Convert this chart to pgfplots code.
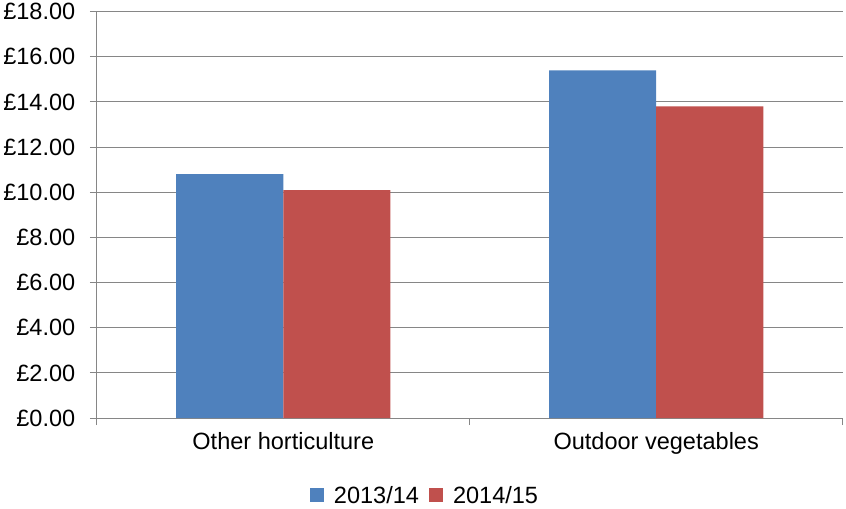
\documentclass[border=0pt]{standalone}
\usepackage{fontspec}
\setmainfont{Liberation Sans}
\usepackage{pgfplots}
\pgfplotsset{compat=1.18}
\definecolor{barblue}{HTML}{4F81BD}
\definecolor{barred}{HTML}{C0504D}
\definecolor{gridgray}{HTML}{868686}
\begin{document}
\begin{tikzpicture}
\begin{axis}[
    scale only axis, width=745pt, height=406pt,
    ybar=0pt, bar width=107pt,
    xmin=-0.5, xmax=1.5, ymin=0, ymax=18,
    xtick={-0.5,0.5,1.5}, xticklabels={},
    extra x ticks={0,1}, extra x tick labels={Other horticulture, Outdoor vegetables},
    extra x tick style={major tick length=0pt, grid=none},
    ytick={0,2,...,18},
    yticklabel={\pounds\pgfmathprintnumber[fixed,fixed zerofill,precision=2]{\tick}},
    /pgf/number format/assume math mode=true,
    ymajorgrids, grid style={gridgray, line width=1pt},
    axis x line*=bottom, axis y line*=left,
    axis line style={gridgray, line width=1pt, -},
    tick align=outside, major tick length=7pt,
    tick style={gridgray, line width=1pt},
    tick label style={font=\fontsize{23.5}{27}\selectfont},
    yticklabel style={xshift=-11pt},
    xticklabel style={yshift=-11pt},
    legend style={at={(0.44,-0.19)}, anchor=center, draw=none, legend columns=-1,
        font=\fontsize{23.5}{27}\selectfont, column sep=8pt},
    legend image code/.code={\fill[#1] (0pt,-7pt) rectangle (14pt,7pt);},
    legend cell align=left,
]
\addplot[fill=barblue, draw=none] coordinates {(0,10.8) (1,15.4)};
\addplot[fill=barred, draw=none] coordinates {(0,10.1) (1,13.8)};
\legend{2013/14, 2014/15}
\end{axis}
\end{tikzpicture}
\end{document}
